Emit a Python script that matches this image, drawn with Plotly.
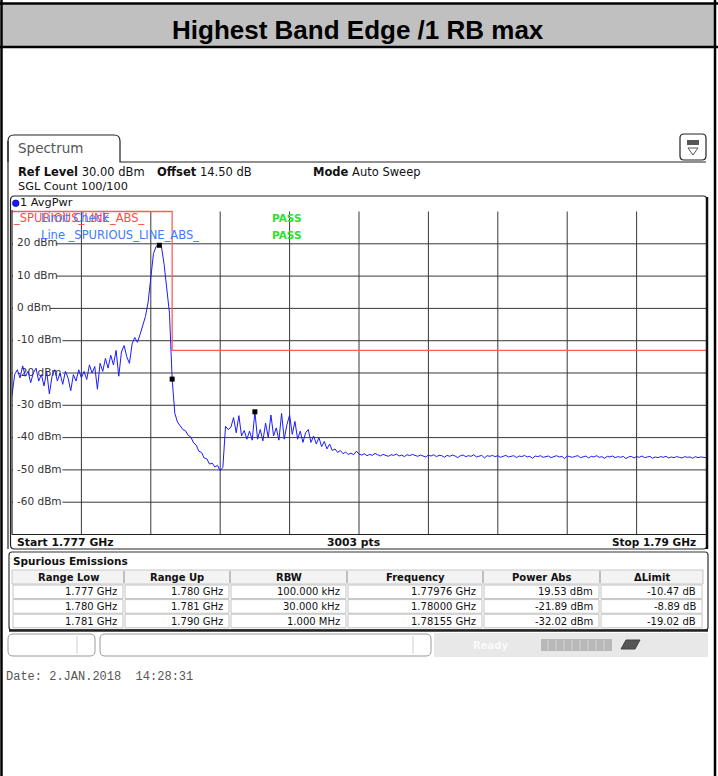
import numpy as np
import plotly.graph_objects as go

W, H = 718, 776
FONT = 'DejaVu Sans'
GRID = '#383838'

# ---- values ----
start_ghz, stop_ghz = 1.777, 1.790
# AvgPwr trace, one reading every 0.05 MHz from 1.777 to 1.790 GHz
trace_dbm = [
    -27.0, -20.5, -19.0, -21.5, -17.8, -21.0, -19.5, -23.0, -20.0, -18.5,
    -22.5, -20.5, -24.0, -19.5, -26.5, -21.0, -19.0, -22.5, -20.0, -23.5,
    -19.5, -21.5, -25.5, -20.5, -22.5, -19.0, -21.5, -19.5, -22.0, -17.5,
    -20.0, -18.0, -25.0, -17.0, -19.5, -15.5, -18.5, -14.5, -17.5, -13.0,
    -21.0, -13.5, -11.5, -15.0, -17.0, -11.0, -9.0, -10.5, -8.0, -5.5,
    -2.5, 2.0, 10.0, 17.0, 19.2, 19.5, 19.1, 13.5, 6.0, -1.5,
    -21.9, -32.5, -35.2, -36.3, -37.5, -37.9, -39.3, -39.8, -41.6, -42.3,
    -44.2, -44.6, -46.3, -46.6, -48.2, -47.9, -49.1, -48.6, -50.3, -49.2,
    -36.5, -37.5, -36.8, -33.8, -38.5, -33.2, -39.5, -37.8, -40.5, -38.0,
    -40.8, -32.0, -40.5, -37.5, -41.0, -35.5, -40.0, -33.0, -39.5, -37.0,
    -40.8, -32.5, -40.5, -36.0, -33.0, -39.0, -35.0, -40.5, -38.0, -41.5,
    -38.5, -37.5, -41.5, -39.5, -42.0, -40.0, -42.8, -41.2, -43.5, -42.0,
    -44.0, -43.5, -44.6, -44.0, -45.0, -44.5, -45.2, -44.8, -45.3, -44.2,
    -45.1, -45.4, -45.0, -45.6, -45.2, -45.5, -44.9, -45.3, -45.7, -45.2,
    -45.4, -45.8, -45.3, -45.5, -45.1, -45.7, -45.4, -45.9, -45.3, -45.6,
    -45.2, -45.5, -45.8, -45.4, -45.6, -46.0, -45.4, -45.7, -45.3, -45.9,
    -45.5, -45.6, -46.1, -45.5, -45.8, -45.4, -45.7, -46.2, -45.6, -45.4,
    -45.9, -45.6, -45.8, -45.3, -46.0, -45.7, -45.5, -46.3, -45.6, -45.8,
    -45.5, -45.9, -45.6, -46.1, -45.7, -45.5, -46.0, -45.8, -45.6, -46.2,
    -45.7, -45.9, -45.5, -46.0, -45.8, -46.4, -45.7, -45.9, -45.6, -46.1,
    -45.8, -45.7, -46.2, -45.9, -45.6, -46.0, -45.8, -46.5, -45.7, -45.9,
    -46.1, -45.8, -45.6, -46.2, -45.9, -45.7, -46.3, -45.8, -46.0, -45.6,
    -46.1, -45.9, -46.4, -45.8, -46.0, -45.7, -46.2, -45.9, -46.1, -45.8,
    -46.5, -46.0, -45.8, -46.3, -45.9, -46.1, -45.7, -46.2, -46.0, -45.8,
    -46.4, -46.0, -46.2, -45.9, -46.1, -45.8, -46.3, -46.0, -46.2, -45.9,
    -46.1, -46.3, -45.9, -46.1, -46.0, -46.4, -45.9, -46.2, -46.0, -46.1,
    -46.2,
]

limit_ghz = [1.777, 1.780, 1.780, 1.790]
limit_dbm = [30, 30, -13, -13]

marker_ghz = [1.77976, 1.78000, 1.78155]
marker_dbm = [19.53, -21.89, -32.02]

level_ticks = [20, 10, 0, -10, -20, -30, -40, -50, -60]
level_labels = [f'{v} dBm' for v in level_ticks]

table_headers = ['Range Low', 'Range Up', 'RBW', 'Frequency', 'Power Abs', '\u0394Limit']
range_low = ['1.777 GHz', '1.780 GHz', '1.781 GHz']
range_up = ['1.780 GHz', '1.781 GHz', '1.790 GHz']
rbw = ['100.000 kHz', '30.000 kHz', '1.000 MHz']
peak_freq = ['1.77976 GHz', '1.78000 GHz', '1.78155 GHz']
power_abs = ['19.53 dBm', '-21.89 dBm', '-32.02 dBm']
delta_limit = ['-10.47 dB', '-8.89 dB', '-19.02 dB']

sweep_ghz = np.linspace(start_ghz, stop_ghz, len(trace_dbm))

# ---- page geometry (pixels) ----
X0, X1 = 12, 706          # plot area left/right
Y30, Y70 = 211.5, 534.5   # 30 dBm / -70 dBm
y_top = 30.5
Ytop = Y30 - (y_top - 30) * (Y70 - Y30) / 100
DB_PER_PX = 100 / (Y70 - Y30)


def px(x):
    return x / W


def py(y):
    return 1 - y / H


def fx(x):
    # pixel -> frequency on the plot's x axis
    return start_ghz + (x - X0) / (X1 - X0) * (stop_ghz - start_ghz)


shapes = []
annots = []


def rect(x0, y0, x1, y1, fill=None, line=None, lw=1, layer='above'):
    shapes.append(dict(type='rect', xref='paper', yref='paper',
                       x0=px(x0), x1=px(x1), y0=py(y1), y1=py(y0),
                       fillcolor=fill or 'rgba(0,0,0,0)',
                       line=dict(color=line or 'rgba(0,0,0,0)', width=lw if line else 0),
                       layer=layer))


def seg(x0, y0, x1, y1, color, lw=1):
    shapes.append(dict(type='line', xref='paper', yref='paper',
                       x0=px(x0), x1=px(x1), y0=py(y0), y1=py(y1),
                       line=dict(color=color, width=lw)))


def rounded(x0, y0, x1, y1, r, line='#222', lw=1, fill=None):
    d = (f'M{px(x0 + r)},{py(y0)} L{px(x1 - r)},{py(y0)} Q{px(x1)},{py(y0)} {px(x1)},{py(y0 + r)} '
         f'L{px(x1)},{py(y1 - r)} Q{px(x1)},{py(y1)} {px(x1 - r)},{py(y1)} '
         f'L{px(x0 + r)},{py(y1)} Q{px(x0)},{py(y1)} {px(x0)},{py(y1 - r)} '
         f'L{px(x0)},{py(y0 + r)} Q{px(x0)},{py(y0)} {px(x0 + r)},{py(y0)} Z')
    shapes.append(dict(type='path', xref='paper', yref='paper', path=d,
                       line=dict(color=line, width=lw),
                       fillcolor=fill or 'rgba(0,0,0,0)'))


def text(x, y, s, size=10, color='#111', anchor='left', family=FONT):
    annots.append(dict(xref='paper', yref='paper', x=px(x), y=py(y), text=s,
                       showarrow=False, xanchor=anchor, yanchor='middle', borderpad=0,
                       font=dict(family=family, size=size, color=color)))


# graticule drawn as shapes under the traces, then white patches behind level labels
grid_ghz = [start_ghz + k * (stop_ghz - start_ghz) / 10 for k in range(1, 10)]
for g in grid_ghz:
    shapes.append(dict(type='line', xref='x', yref='y', x0=g, x1=g, y0=-70, y1=30,
                       line=dict(color=GRID, width=1), layer='below'))
for v in level_ticks:
    shapes.append(dict(type='line', xref='x', yref='y', x0=start_ghz, x1=stop_ghz, y0=v, y1=v,
                       line=dict(color=GRID, width=1), layer='below'))
for v, lab in zip(level_ticks, level_labels):
    shapes.append(dict(type='rect', xref='x', yref='y',
                       x0=fx(X0 + 1), x1=fx(19 + len(lab) * 6.2),
                       y0=v - 5 * DB_PER_PX, y1=v + 5 * DB_PER_PX,
                       fillcolor='white', line=dict(width=0), layer='below'))

# page frame and title band
rect(2, 4, 714, 47, fill='#c0c0c0')
seg(0, 3.5, 718, 3.5, 'black', 2.5)
seg(0, 47, 718, 47, 'black', 2.5)
seg(1.5, 0, 1.5, 776, 'black', 2.5)
seg(715, 0, 715, 776, 'black', 2.5)
text(358, 30, '<b>Highest Band Edge /1 RB max</b>', size=26, color='black',
     anchor='center', family='Liberation Sans')

# spectrum tab
tab = (f'M{px(8)},{py(162)} L{px(8)},{py(141)} Q{px(8)},{py(135)} {px(14)},{py(135)} '
       f'L{px(114)},{py(135)} Q{px(120)},{py(135)} {px(120)},{py(141)} L{px(120)},{py(162)} '
       f'L{px(706)},{py(162)}')
shapes.append(dict(type='path', xref='paper', yref='paper', path=tab,
                   line=dict(color='#222', width=1.2)))
text(17, 148, 'Spectrum', size=13.5, color='#555')
rounded(680, 134, 706, 160, 4, line='#222', lw=1.2)
rect(687, 140, 699, 145, fill='#555')
shapes.append(dict(type='path', xref='paper', yref='paper',
                   path=f'M{px(688)},{py(148)} L{px(698)},{py(148)} L{px(693)},{py(155)} Z',
                   line=dict(color='#555', width=1)))
seg(8, 141, 8, 549, '#222', 1.2)

text(17, 172, '<b>Ref Level</b> 30.00 dBm', size=11.5)
text(156, 172, '<b>Offset</b> 14.50 dB', size=11.5)
text(312, 172, '<b>Mode</b> Auto Sweep', size=11.5)
text(17, 186, 'SGL Count 100/100', size=11.3)

# graph box
rounded(10.5, 196, 707, 549, 4, line='#222', lw=1.2)
seg(707, 197, 707, 549, '#111', 2.5)
shapes.append(dict(type='circle', xref='paper', yref='paper',
                   x0=px(12.5), x1=px(19), y0=py(206.5), y1=py(200),
                   fillcolor='#1a1aff', line=dict(color='#0000aa', width=0.8)))
text(19, 203, '1 AvgPwr', size=11.3)
seg(X0, Ytop, X0, Y70, '#222', 1.2)
seg(X0, Y70, 707, Y70, '#222', 1.2)
text(16, 542, '<b>Start 1.777 GHz</b>', size=10.8)
text(353, 542, '<b>3003 pts</b>', size=10.8, anchor='center')
text(697, 542, '<b>Stop 1.79 GHz</b>', size=10.5, anchor='right')

# limit check labels
text(12, 218, '_SPURIOUS_LINE_ABS_', size=11.5, color='#ff4a4a')
text(40, 218, 'Limit Check', size=11.5, color='#3d7bff')
text(40, 235, 'Line _SPURIOUS_LINE_ABS_', size=11.5, color='#3d7bff')
text(271, 218, '<b>PASS</b>', size=10.5, color='#2ee02e')
text(271, 235, '<b>PASS</b>', size=10.5, color='#2ee02e')

# spurious emissions table
rounded(9, 552, 708, 630, 3, line='#333', lw=1.2)
seg(9, 630.5, 708, 630.5, '#222', 2.5)
text(12, 561, '<b>Spurious Emissions</b>', size=10.5)
col_edges = [12, 124, 230, 347, 483, 600, 703]
rect(12, 570, 703, 584, fill='#f3f3f3', line='#c8c8c8', lw=1)
for c, head in enumerate(table_headers):
    if c > 0:
        seg(col_edges[c], 571, col_edges[c], 583, '#8a8a8a', 1)
    text((col_edges[c] + col_edges[c + 1]) / 2, 577, f'<b>{head}</b>', size=10, anchor='center')
columns = [range_low, range_up, rbw, peak_freq, power_abs, delta_limit]
for r in range(3):
    top = 585 + r * 14.6
    for c, col in enumerate(columns):
        rect(col_edges[c] + 1, top, col_edges[c + 1] - 1, top + 13.6, line='#c4c4c4', lw=1)
        text(col_edges[c + 1] - 6, top + 6.8, col[r], size=10, anchor='right')

# status bar
rounded(8, 634, 95, 656, 5, line='#9a9a9a', lw=1)
seg(77, 636, 77, 654, '#cfcfcf', 1)
rounded(100, 634, 431, 656, 5, line='#9a9a9a', lw=1)
seg(413, 636, 413, 654, '#cfcfcf', 1)
rect(434, 633, 708, 657, fill='#e8e8e8')
text(472, 645, '<b>Ready</b>', size=10, color='#fafafa')
rect(541, 639, 612, 651, fill='#b8b8b8')
for k in range(8):
    seg(548 + k * 8, 640, 548 + k * 8, 650, '#d6d6d6', 1)
shapes.append(dict(type='path', xref='paper', yref='paper',
                   path=f'M{px(621)},{py(649)} L{px(626)},{py(640)} L{px(640)},{py(640)} L{px(635)},{py(649)} Z',
                   fillcolor='#555', line=dict(color='#444', width=1)))

text(5, 677, 'Date: 2.JAN.2018\u00a0\u00a014:28:31', size=12, color='#555',
     family='Liberation Mono')

fig = go.Figure()
fig.add_trace(go.Scatter(x=[fx(17)] * len(level_ticks), y=level_ticks, mode='text',
                         text=level_labels, textposition='middle right',
                         textfont=dict(family=FONT, size=10.5, color='#333'),
                         hoverinfo='skip'))
fig.add_trace(go.Scatter(x=limit_ghz, y=limit_dbm, mode='lines',
                         line=dict(color='#ff5c5c', width=1.3), hoverinfo='skip'))
fig.add_trace(go.Scatter(x=sweep_ghz, y=trace_dbm, mode='lines',
                         line=dict(color='#1c1cff', width=1)))
fig.add_trace(go.Scatter(x=marker_ghz, y=marker_dbm, mode='markers',
                         marker=dict(symbol='square', size=5, color='black')))

fig.update_layout(
    width=W, height=H,
    margin=dict(l=0, r=0, t=0, b=0),
    paper_bgcolor='white', plot_bgcolor='rgba(0,0,0,0)',
    showlegend=False,
    shapes=shapes, annotations=annots,
    xaxis=dict(domain=[X0 / W, X1 / W], range=[start_ghz, stop_ghz],
               showticklabels=False, showgrid=False, zeroline=False, showline=False, ticks=''),
    yaxis=dict(domain=[1 - Y70 / H, 1 - Ytop / H], range=[-70, y_top],
               showticklabels=False, showgrid=False, zeroline=False, showline=False, ticks=''),
)

fig.write_html("out.html", config={'displayModeBar': False},
               post_script="document.body.style.margin='0';document.body.style.overflow='hidden';")
